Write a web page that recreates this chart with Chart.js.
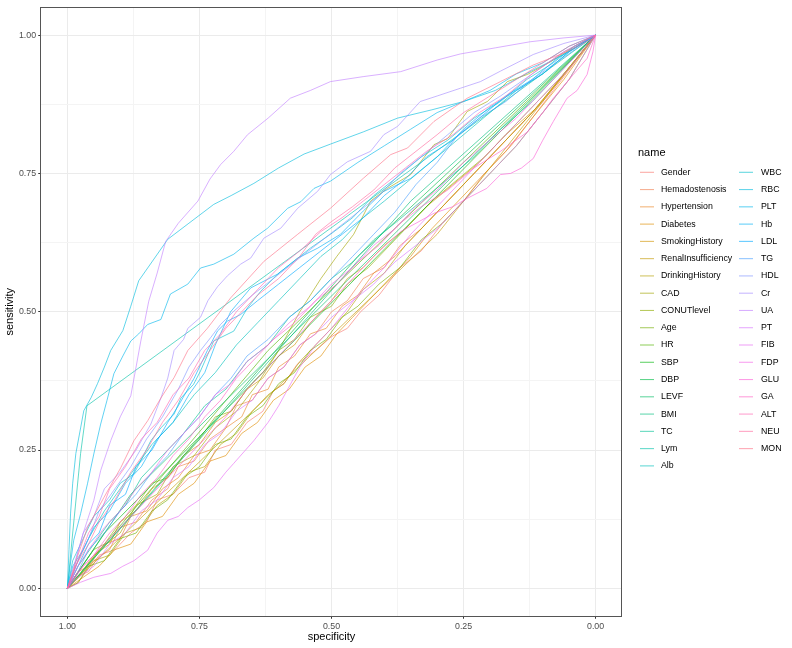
<!DOCTYPE html>
<html><head><meta charset="utf-8">
<script src="https://cdn.jsdelivr.net/npm/chart.js@4"></script>
<style>html,body{margin:0;padding:0;background:#fff;}#wrap{width:792px;height:648px;position:relative;}</style>
</head><body><div id="wrap"><canvas id="c" width="792" height="648"></canvas></div>
<script>
const categories = ["Gender","Hemadostenosis","Hypertension","Diabetes","SmokingHistory","RenalInsufficiency","DrinkingHistory","CAD","CONUTlevel","Age","HR","SBP","DBP","LEVF","BMI","TC","Lym","Alb","WBC","RBC","PLT","Hb","LDL","TG","HDL","Cr","UA","PT","FIB","FDP","GLU","GA","ALT","NEU","MON"];
const xTickValues = [1, 0.75, 0.5, 0.25, 0];
const yTickValues = [0, 0.25, 0.5, 0.75, 1];
const tickLabels = ["0.00","0.25","0.50","0.75","1.00"];

// [specificity, sensitivity]
const Gender = [[1,0],[0.985,0.02],[0.96,0.03],[0.94,0.06],[0.91,0.07],[0.88,0.1],[0.85,0.12],[0.83,0.16],[0.8,0.17],[0.77,0.2],[0.74,0.21],[0.72,0.25],[0.69,0.26],[0.66,0.3],[0.63,0.32],[0.61,0.357],[0.59,0.37],[0.565,0.405],[0.53,0.43],[0.5,0.455],[0.47,0.47],[0.445,0.5],[0.41,0.53],[0.37,0.58],[0.33,0.61],[0.29,0.66],[0.25,0.7],[0.21,0.75],[0.16,0.8],[0.12,0.85],[0.08,0.9],[0.04,0.95],[0,1]];
const Hemadostenosis = [[1,0],[0.98,0.01],[0.95,0.05],[0.92,0.07],[0.9,0.11],[0.87,0.12],[0.84,0.16],[0.81,0.18],[0.79,0.22],[0.76,0.23],[0.73,0.27],[0.7,0.29],[0.68,0.33],[0.65,0.34],[0.62,0.38],[0.59,0.4],[0.56,0.44],[0.53,0.46],[0.5,0.5],[0.47,0.52],[0.44,0.56],[0.4,0.58],[0.37,0.62],[0.33,0.65],[0.29,0.69],[0.25,0.73],[0.2,0.78],[0.15,0.83],[0.1,0.88],[0.05,0.94],[0,1]];
const Hypertension = [[1,0],[0.98,0.03],[0.96,0.04],[0.93,0.08],[0.9,0.09],[0.88,0.13],[0.85,0.14],[0.82,0.18],[0.79,0.2],[0.76,0.24],[0.73,0.25],[0.7,0.29],[0.67,0.31],[0.65,0.35],[0.62,0.36],[0.6,0.4],[0.57,0.42],[0.54,0.46],[0.51,0.47],[0.48,0.51],[0.45,0.53],[0.42,0.57],[0.38,0.6],[0.34,0.64],[0.3,0.68],[0.26,0.72],[0.22,0.76],[0.17,0.81],[0.12,0.86],[0.06,0.93],[0,1]];
const Diabetes = [[1,0],[0.97,0.02],[0.94,0.04],[0.91,0.07],[0.88,0.08],[0.85,0.12],[0.82,0.13],[0.79,0.17],[0.76,0.19],[0.73,0.23],[0.7,0.24],[0.67,0.28],[0.64,0.3],[0.61,0.34],[0.58,0.36],[0.55,0.4],[0.52,0.42],[0.49,0.46],[0.46,0.49],[0.43,0.52],[0.39,0.56],[0.35,0.6],[0.31,0.65],[0.27,0.69],[0.22,0.74],[0.17,0.79],[0.12,0.85],[0.06,0.92],[0,1]];
const SmokingHistory = [[1,0],[0.98,0.02],[0.95,0.06],[0.92,0.08],[0.9,0.12],[0.87,0.14],[0.84,0.18],[0.81,0.2],[0.78,0.24],[0.75,0.26],[0.72,0.3],[0.69,0.32],[0.66,0.36],[0.63,0.38],[0.6,0.42],[0.57,0.44],[0.54,0.48],[0.5,0.52],[0.47,0.56],[0.44,0.58],[0.4,0.62],[0.36,0.65],[0.32,0.69],[0.27,0.73],[0.22,0.77],[0.17,0.82],[0.11,0.87],[0.06,0.93],[0,1]];
const RenalInsufficiency = [[1,0],[0.3,0.64],[0,1]];
const DrinkingHistory = [[1,0],[0.97,0.03],[0.95,0.05],[0.92,0.06],[0.89,0.1],[0.86,0.11],[0.83,0.15],[0.8,0.17],[0.77,0.21],[0.74,0.22],[0.71,0.26],[0.68,0.28],[0.65,0.32],[0.62,0.35],[0.59,0.37],[0.56,0.41],[0.53,0.44],[0.5,0.47],[0.47,0.5],[0.44,0.54],[0.4,0.57],[0.36,0.62],[0.32,0.66],[0.28,0.7],[0.23,0.75],[0.18,0.8],[0.12,0.86],[0.06,0.93],[0,1]];
const CAD = [[1,0],[0.97,0.03],[0.94,0.07],[0.9,0.1],[0.87,0.15],[0.83,0.17],[0.8,0.22],[0.76,0.24],[0.72,0.29],[0.68,0.32],[0.64,0.37],[0.6,0.43],[0.56,0.5],[0.52,0.56],[0.49,0.6],[0.458,0.64],[0.426,0.7],[0.394,0.723],[0.35,0.748],[0.306,0.802],[0.28,0.813],[0.243,0.862],[0.205,0.88],[0.167,0.916],[0.129,0.929],[0.085,0.952],[0.04,0.98],[0,1]];
const CONUTlevel = [[1,0],[0.98,0.03],[0.95,0.07],[0.93,0.08],[0.9,0.12],[0.87,0.15],[0.84,0.19],[0.81,0.2],[0.78,0.24],[0.75,0.27],[0.72,0.31],[0.69,0.32],[0.66,0.36],[0.63,0.39],[0.6,0.43],[0.57,0.45],[0.54,0.49],[0.5,0.51],[0.47,0.55],[0.43,0.58],[0.39,0.62],[0.35,0.66],[0.31,0.7],[0.26,0.74],[0.21,0.78],[0.16,0.83],[0.1,0.89],[0.05,0.94],[0,1]];
const Age = [[1,0],[0.98,0.01],[0.96,0.04],[0.93,0.05],[0.9,0.09],[0.87,0.1],[0.84,0.14],[0.81,0.16],[0.78,0.2],[0.75,0.22],[0.72,0.26],[0.69,0.27],[0.66,0.31],[0.63,0.33],[0.6,0.37],[0.57,0.39],[0.54,0.43],[0.51,0.45],[0.48,0.49],[0.45,0.51],[0.41,0.55],[0.37,0.58],[0.33,0.63],[0.29,0.66],[0.25,0.7],[0.2,0.75],[0.15,0.8],[0.1,0.86],[0.05,0.92],[0,1]];
const HR = [[1,0],[0.62,0.43],[0,1]];
const SBP = [[1,0],[0.93,0.1],[0,1]];
const DBP = [[1,0],[0.45,0.6],[0,1]];
const LEVF = [[1,0],[0.88,0.17],[0,1]];
const BMI = [[1,0],[0.35,0.7],[0,1]];
const TC = [[1,0],[0.98,0.04],[0.95,0.08],[0.92,0.12],[0.89,0.15],[0.86,0.2],[0.82,0.24],[0.78,0.28],[0.74,0.33],[0.7,0.36],[0.66,0.41],[0.62,0.44],[0.58,0.49],[0.54,0.52],[0.5,0.56],[0.46,0.59],[0.42,0.63],[0.38,0.66],[0.33,0.7],[0.28,0.74],[0.23,0.78],[0.18,0.83],[0.12,0.88],[0.06,0.94],[0,1]];
const Lym = [[1,0],[0.99,0.1],[0.975,0.244],[0.963,0.33],[0,1]];
const Alb = [[1,0],[0.98,0.05],[0.96,0.09],[0.93,0.14],[0.9,0.18],[0.87,0.22],[0.84,0.26],[0.8,0.3],[0.76,0.35],[0.72,0.39],[0.68,0.44],[0.64,0.48],[0.6,0.52],[0.56,0.56],[0.52,0.6],[0.48,0.63],[0.44,0.67],[0.4,0.7],[0.35,0.74],[0.3,0.78],[0.25,0.82],[0.2,0.86],[0.15,0.9],[0.1,0.93],[0.05,0.97],[0,1]];
const WBC = [[1,0],[0.99,0.05],[0.97,0.09],[0.95,0.13],[0.92,0.16],[0.9,0.19],[0.874,0.207],[0.861,0.231],[0.842,0.267],[0.823,0.29],[0.798,0.315],[0.785,0.344],[0.761,0.369],[0.748,0.393],[0.723,0.447],[0.685,0.465],[0.659,0.507],[0.634,0.537],[0.602,0.568],[0.578,0.586],[0.54,0.615],[0.502,0.64],[0.46,0.67],[0.42,0.71],[0.38,0.74],[0.33,0.78],[0.28,0.81],[0.23,0.85],[0.18,0.88],[0.13,0.92],[0.08,0.95],[0.04,0.98],[0,1]];
const RBC = [[1,0],[0.997,0.07],[0.994,0.136],[0.99,0.19],[0.984,0.244],[0.975,0.29],[0.969,0.321],[0.955,0.345],[0.943,0.37],[0.93,0.4],[0.918,0.43],[0.895,0.466],[0.88,0.51],[0.865,0.556],[0.84,0.59],[0.81,0.631],[0.77,0.66],[0.723,0.694],[0.69,0.71],[0.647,0.732],[0.6,0.76],[0.552,0.785],[0.502,0.803],[0.44,0.825],[0.375,0.85],[0.31,0.865],[0.25,0.88],[0.19,0.9],[0.124,0.934],[0.06,0.965],[0,1]];
const PLT = [[1,0],[0.995,0.04],[0.988,0.087],[0.975,0.135],[0.962,0.189],[0.95,0.243],[0.937,0.297],[0.925,0.34],[0.912,0.388],[0.895,0.42],[0.88,0.447],[0.865,0.46],[0.848,0.477],[0.823,0.486],[0.805,0.532],[0.772,0.55],[0.748,0.579],[0.723,0.586],[0.685,0.604],[0.647,0.633],[0.621,0.651],[0.583,0.687],[0.558,0.699],[0.533,0.723],[0.502,0.736],[0.45,0.77],[0.4,0.8],[0.35,0.83],[0.3,0.86],[0.25,0.88],[0.2,0.9],[0.15,0.93],[0.1,0.95],[0.05,0.98],[0,1]];
const Hb = [[1,0],[0.99,0.04],[0.97,0.07],[0.95,0.11],[0.92,0.14],[0.89,0.19],[0.86,0.22],[0.83,0.27],[0.8,0.3],[0.77,0.35],[0.74,0.39],[0.72,0.44],[0.691,0.5],[0.653,0.543],[0.602,0.568],[0.564,0.597],[0.526,0.615],[0.483,0.64],[0.44,0.682],[0.402,0.717],[0.35,0.741],[0.3,0.78],[0.25,0.83],[0.2,0.87],[0.15,0.9],[0.1,0.93],[0.05,0.97],[0,1]];
const LDL = [[1,0],[0.98,0.04],[0.96,0.08],[0.94,0.1],[0.92,0.15],[0.89,0.17],[0.87,0.22],[0.84,0.25],[0.81,0.3],[0.79,0.33],[0.76,0.38],[0.735,0.43],[0.716,0.465],[0.697,0.483],[0.672,0.495],[0.64,0.52],[0.6,0.55],[0.56,0.58],[0.52,0.61],[0.48,0.64],[0.44,0.67],[0.4,0.71],[0.36,0.74],[0.32,0.78],[0.27,0.81],[0.22,0.85],[0.17,0.89],[0.12,0.92],[0.07,0.96],[0,1]];
const TG = [[1,0],[0.98,0.03],[0.96,0.07],[0.93,0.1],[0.9,0.14],[0.87,0.17],[0.84,0.21],[0.81,0.24],[0.78,0.28],[0.75,0.31],[0.72,0.35],[0.69,0.38],[0.66,0.42],[0.62,0.45],[0.58,0.49],[0.54,0.52],[0.5,0.56],[0.46,0.6],[0.42,0.64],[0.38,0.68],[0.34,0.73],[0.3,0.77],[0.26,0.82],[0.22,0.85],[0.17,0.88],[0.12,0.92],[0.06,0.96],[0,1]];
const HDL = [[1,0],[0.98,0.05],[0.96,0.09],[0.94,0.14],[0.91,0.18],[0.88,0.22],[0.85,0.27],[0.82,0.31],[0.79,0.36],[0.77,0.4],[0.748,0.43],[0.729,0.453],[0.71,0.477],[0.685,0.501],[0.65,0.53],[0.61,0.56],[0.57,0.59],[0.53,0.62],[0.49,0.65],[0.45,0.68],[0.41,0.71],[0.37,0.75],[0.33,0.78],[0.28,0.82],[0.23,0.86],[0.18,0.89],[0.12,0.93],[0.06,0.97],[0,1]];
const Cr = [[1,0],[0.985,0.05],[0.97,0.1],[0.95,0.13],[0.93,0.18],[0.9,0.21],[0.87,0.25],[0.842,0.297],[0.823,0.344],[0.81,0.38],[0.798,0.43],[0.78,0.45],[0.772,0.47],[0.748,0.49],[0.734,0.52],[0.716,0.545],[0.697,0.565],[0.672,0.586],[0.653,0.597],[0.628,0.633],[0.596,0.651],[0.564,0.687],[0.526,0.718],[0.502,0.748],[0.47,0.771],[0.426,0.79],[0.401,0.82],[0.375,0.835],[0.332,0.88],[0.3,0.89],[0.256,0.904],[0.218,0.916],[0.18,0.935],[0.118,0.965],[0.06,0.985],[0,1]];
const UA = [[1,0],[0.99,0.02],[0.984,0.051],[0.97,0.1],[0.95,0.159],[0.937,0.213],[0.918,0.267],[0.9,0.31],[0.88,0.348],[0.87,0.4],[0.861,0.447],[0.846,0.519],[0.83,0.57],[0.814,0.627],[0.79,0.66],[0.753,0.7],[0.73,0.74],[0.71,0.766],[0.685,0.79],[0.659,0.82],[0.62,0.85],[0.578,0.886],[0.54,0.9],[0.502,0.916],[0.44,0.925],[0.369,0.934],[0.3,0.955],[0.256,0.966],[0.19,0.977],[0.124,0.988],[0.06,0.995],[0,1]];
const PT = [[1,0],[0.98,0.02],[0.95,0.04],[0.92,0.08],[0.89,0.1],[0.86,0.14],[0.83,0.16],[0.8,0.2],[0.77,0.22],[0.74,0.26],[0.71,0.28],[0.68,0.32],[0.65,0.34],[0.62,0.38],[0.59,0.4],[0.56,0.44],[0.53,0.46],[0.5,0.49],[0.46,0.52],[0.42,0.55],[0.38,0.59],[0.34,0.62],[0.3,0.65],[0.25,0.7],[0.2,0.75],[0.15,0.8],[0.1,0.86],[0.05,0.92],[0,1]];
const FIB = [[1,0],[0.975,0.011],[0.95,0.02],[0.918,0.027],[0.895,0.04],[0.874,0.05],[0.848,0.069],[0.83,0.1],[0.81,0.123],[0.79,0.13],[0.772,0.146],[0.75,0.16],[0.723,0.182],[0.7,0.21],[0.685,0.226],[0.647,0.267],[0.62,0.3],[0.6,0.33],[0.56,0.4],[0.53,0.44],[0.5,0.47],[0.45,0.53],[0.4,0.58],[0.35,0.64],[0.3,0.69],[0.25,0.74],[0.2,0.79],[0.15,0.84],[0.1,0.89],[0.05,0.94],[0,1]];
const FDP = [[1,0],[0.98,0.04],[0.96,0.07],[0.93,0.11],[0.9,0.14],[0.87,0.18],[0.84,0.21],[0.81,0.25],[0.78,0.28],[0.75,0.31],[0.72,0.35],[0.69,0.37],[0.66,0.41],[0.62,0.44],[0.58,0.48],[0.54,0.51],[0.5,0.55],[0.46,0.58],[0.42,0.62],[0.38,0.65],[0.34,0.69],[0.3,0.72],[0.25,0.77],[0.2,0.81],[0.15,0.85],[0.1,0.9],[0.05,0.95],[0,1]];
const GLU = [[1,0],[0.97,0.04],[0.94,0.07],[0.9,0.11],[0.86,0.15],[0.82,0.19],[0.78,0.23],[0.74,0.27],[0.7,0.31],[0.66,0.36],[0.62,0.4],[0.58,0.44],[0.54,0.48],[0.5,0.52],[0.46,0.56],[0.42,0.6],[0.369,0.645],[0.34,0.66],[0.306,0.678],[0.27,0.69],[0.243,0.705],[0.206,0.723],[0.18,0.748],[0.161,0.75],[0.14,0.76],[0.118,0.777],[0.1,0.81],[0.08,0.844],[0.054,0.886],[0.035,0.9],[0.016,0.929],[0.005,0.97],[0,1]];
const GA = [[1,0],[0.98,0.03],[0.95,0.06],[0.92,0.1],[0.89,0.13],[0.86,0.17],[0.83,0.2],[0.8,0.24],[0.77,0.27],[0.74,0.31],[0.71,0.34],[0.68,0.38],[0.65,0.41],[0.61,0.45],[0.57,0.48],[0.53,0.52],[0.49,0.55],[0.45,0.59],[0.41,0.62],[0.37,0.66],[0.33,0.69],[0.28,0.72],[0.23,0.76],[0.18,0.79],[0.129,0.825],[0.1,0.86],[0.08,0.886],[0.042,0.929],[0.016,0.958],[0,1]];
const ALT = [[1,0],[0.98,0.05],[0.96,0.1],[0.94,0.13],[0.92,0.18],[0.89,0.22],[0.86,0.27],[0.83,0.3],[0.8,0.35],[0.77,0.38],[0.74,0.43],[0.71,0.46],[0.68,0.5],[0.64,0.54],[0.6,0.58],[0.56,0.61],[0.52,0.645],[0.48,0.67],[0.44,0.7],[0.4,0.73],[0.36,0.76],[0.32,0.79],[0.27,0.82],[0.22,0.86],[0.17,0.89],[0.12,0.93],[0.06,0.97],[0,1]];
const NEU = [[1,0],[0.985,0.04],[0.96,0.08],[0.94,0.12],[0.91,0.16],[0.88,0.21],[0.85,0.25],[0.82,0.3],[0.79,0.34],[0.76,0.39],[0.73,0.43],[0.7,0.47],[0.67,0.5],[0.64,0.53],[0.6,0.56],[0.56,0.6],[0.53,0.64],[0.5,0.663],[0.46,0.69],[0.42,0.72],[0.38,0.76],[0.34,0.79],[0.3,0.82],[0.25,0.86],[0.2,0.89],[0.15,0.92],[0.1,0.95],[0.05,0.98],[0,1]];
const MON = [[1,0],[0.98,0.06],[0.962,0.11],[0.931,0.164],[0.899,0.218],[0.874,0.267],[0.848,0.303],[0.823,0.344],[0.798,0.381],[0.772,0.43],[0.735,0.47],[0.691,0.525],[0.628,0.591],[0.564,0.64],[0.502,0.687],[0.44,0.741],[0.388,0.784],[0.356,0.796],[0.306,0.844],[0.243,0.886],[0.18,0.916],[0.118,0.946],[0.054,0.97],[0.005,0.994],[0,1]];

const seriesValues = [Gender,Hemadostenosis,Hypertension,Diabetes,SmokingHistory,RenalInsufficiency,DrinkingHistory,CAD,CONUTlevel,Age,HR,SBP,DBP,LEVF,BMI,TC,Lym,Alb,WBC,RBC,PLT,Hb,LDL,TG,HDL,Cr,UA,PT,FIB,FDP,GLU,GA,ALT,NEU,MON];

// ggplot2-style hue palette (HCL, c=100, l=65)
function hcl(h, c, l, a) {
  const hr = h * Math.PI / 180;
  const U = c * Math.cos(hr), V = c * Math.sin(hr);
  const Xn = 95.047, Yn = 100, Zn = 108.883;
  const Y = Yn * (l > 8 ? Math.pow((l + 16) / 116, 3) : l / 903.3);
  const den = Xn + 15 * Yn + 3 * Zn;
  const un = 4 * Xn / den, vn = 9 * Yn / den;
  const u = U / (13 * l) + un, v = V / (13 * l) + vn;
  const X = Y * 9 * u / (4 * v);
  const Z = Y * (12 - 3 * u - 20 * v) / (4 * v);
  const x = X / 100, y = Y / 100, z = Z / 100;
  let r = 3.240479 * x - 1.537150 * y - 0.498535 * z;
  let g = -0.969256 * x + 1.875992 * y + 0.041556 * z;
  let b = 0.055648 * x - 0.204043 * y + 1.057311 * z;
  const gam = t => { t = t <= 0.0031308 ? 12.92 * t : 1.055 * Math.pow(t, 1 / 2.4) - 0.055; return Math.round(255 * Math.min(1, Math.max(0, t))); };
  return `rgba(${gam(r)},${gam(g)},${gam(b)},${a})`;
}
const n = categories.length;
const colors = categories.map((_, i) => hcl(15 + i * 360 / n, 100, 65, 0.62));

const FONT = '"Liberation Sans", Arial, Helvetica, sans-serif';
const allTicks = [0, 0.125, 0.25, 0.375, 0.5, 0.625, 0.75, 0.875, 1];
const isMajor = v => Math.abs(v * 4 - Math.round(v * 4)) < 1e-6;
const labelFor = v => { const k = yTickValues.findIndex(t => Math.abs(t - v) < 1e-6); return k >= 0 ? tickLabels[k] : ''; };

function axis(extra) {
  return Object.assign({
    type: 'linear', min: -0.05, max: 1.05,
    afterBuildTicks: s => { s.ticks = allTicks.map(v => ({ value: v })); },
    ticks: { autoSkip: false, maxRotation: 0, padding: 2.2, color: '#4D4D4D',
      font: { size: 8.8, family: FONT }, callback: v => labelFor(v) },
    grid: {
      color: c => (c.tick && isMajor(c.tick.value)) ? '#EBEBEB' : '#F4F4F4',
      lineWidth: 1,
      tickColor: c => (c.tick && isMajor(c.tick.value)) ? '#333333' : 'rgba(0,0,0,0)',
      tickLength: 2.75, drawTicks: true
    },
    border: { display: false }
  }, extra);
}

const frame = {
  id: 'frame',
  afterDatasetsDraw(chart) {
    const { ctx, chartArea: a } = chart;
    ctx.save();
    ctx.strokeStyle = '#555555'; ctx.lineWidth = 1;
    ctx.strokeRect(Math.floor(a.left) - 0.5, Math.floor(a.top) + 0.5, Math.round(a.right - a.left), Math.round(a.bottom - a.top));
    ctx.restore();
  },
  afterDraw(chart) {
    const ctx = chart.ctx;
    ctx.save();
    ctx.textBaseline = 'middle'; ctx.textAlign = 'left';
    ctx.fillStyle = '#000';
    ctx.font = '11px ' + FONT;
    ctx.fillText('name', 638, 153);
    ctx.font = '8.8px ' + FONT;
    categories.forEach((name, i) => {
      const col = i < 18 ? 0 : 1;
      const row = col ? i - 18 : i;
      const y = 172.3 + row * 17.27;
      const kx = col ? 739 : 640;
      ctx.strokeStyle = colors[i]; ctx.lineWidth = 1.07;
      ctx.beginPath(); ctx.moveTo(kx, y); ctx.lineTo(kx + 14, y); ctx.stroke();
      ctx.fillStyle = '#000';
      ctx.fillText(name, col ? 761 : 661, y);
    });
    ctx.restore();
  }
};

new Chart(document.getElementById('c'), {
  type: 'line',
  data: {
    datasets: categories.map((name, i) => ({
      label: name,
      data: seriesValues[i].map(p => ({ x: p[0], y: p[1] })),
      borderColor: colors[i], backgroundColor: colors[i],
      borderWidth: 1, pointRadius: 0, tension: 0, fill: false,
      order: n - 1 - i
    }))
  },
  options: {
    responsive: false, animation: false, devicePixelRatio: 1,
    layout: { padding: { top: 5, right: 170, left: 0, bottom: 0 } },
    plugins: { legend: { display: false }, tooltip: { enabled: false } },
    scales: {
      x: axis({ reverse: true,
        title: { display: true, text: 'specificity', color: '#000', font: { size: 11, family: FONT }, padding: { top: 0, bottom: 4 } },
        afterFit: s => { s.height = 32; } }),
      y: axis({
        title: { display: true, text: 'sensitivity', color: '#000', font: { size: 11, family: FONT }, padding: { top: 3, bottom: 0 } },
        afterFit: s => { s.width = 41; } })
    }
  },
  plugins: [frame]
});
</script></body></html>
